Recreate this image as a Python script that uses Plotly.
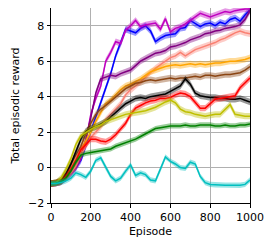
import plotly.graph_objects as go

episodes = list(range(0, 1001, 25))

blue = [-0.9, -0.88, -0.8, -0.6, -0.3, 0.0, 0.4, 1.2, 2.0, 2.8, 3.6, 4.5, 5.3, 6.3, 7.0, 7.8, 7.7, 7.6, 7.85, 8.0, 7.7,
        7.1, 7.3, 7.45, 7.5, 7.55, 7.85, 7.9, 8.3, 8.1, 7.95, 8.1, 8.15, 8.0, 8.2, 8.1, 8.35, 8.45, 8.25, 8.6, 8.9]
magenta = [-0.9, -0.88, -0.8, -0.6, -0.3, 0.0, 0.5, 1.5, 3.0, 3.9, 4.6, 6.0, 6.5, 7.1, 7.0, 7.75, 8.0, 8.3, 7.95, 8.05, 8.1,
           8.15, 7.8, 8.4, 7.65, 7.85, 7.95, 8.1, 8.3, 8.5, 8.7, 8.6, 8.5, 8.6, 8.7, 8.8, 8.75, 8.85, 8.9, 8.95, 8.95]
purple = [-0.9, -0.88, -0.8, -0.6, -0.35, 0.0, 0.6, 1.6, 2.8, 4.2, 5.0, 5.1, 5.2, 5.15, 5.3, 5.4, 5.5, 5.75, 6.0, 6.15, 6.3,
          6.45, 6.5, 6.6, 6.8, 6.85, 6.95, 7.05, 7.2, 7.3, 7.4, 7.55, 7.6, 7.7, 7.75, 7.85, 7.9, 7.95, 8.05, 8.35, 8.85]
salmon = [-0.9, -0.88, -0.8, -0.6, -0.3, 0.1, 0.7, 1.2, 1.7, 2.0, 2.3, 2.7, 3.0, 3.3, 3.6, 4.1, 4.4, 4.6, 4.85, 5.1, 5.4,
          5.6, 5.8, 6.0, 6.2, 6.3, 6.5, 6.3, 6.5, 6.65, 6.75, 6.85, 6.95, 7.05, 7.2, 7.3, 7.45, 7.6, 7.7, 7.6, 7.55]
orange = [-0.9, -0.88, -0.8, -0.5, -0.1, 0.4, 1.0, 1.5, 2.0, 2.6, 3.1, 3.6, 3.8, 4.1, 4.4, 4.6, 4.7, 4.85, 5.0, 5.2, 5.4,
          5.5, 5.6, 5.7, 5.75, 5.8, 5.75, 5.8, 5.85, 5.8, 5.85, 5.8, 5.85, 5.9, 5.9, 5.95, 6.0, 6.0, 6.05, 6.1, 6.2]
brown = [-0.9, -0.85, -0.75, -0.4, 0.2, 0.7, 1.2, 1.9, 2.5, 3.0, 3.3, 3.5, 3.75, 4.0, 4.2, 4.45, 4.6, 4.75, 4.8, 4.9, 4.95,
         4.9, 4.95, 5.0, 5.05, 5.0, 5.05, 5.05, 5.1, 5.15, 5.1, 5.2, 5.2, 5.15, 5.2, 5.25, 5.25, 5.3, 5.35, 5.5, 5.7]
black = [-0.9, -0.85, -0.7, -0.35, 0.2, 0.9, 1.6, 2.05, 2.2, 2.3, 2.45, 2.6, 2.85, 3.1, 3.35, 3.6, 3.75, 3.9, 3.95, 3.9, 4.0,
         4.05, 4.1, 4.15, 4.3, 4.45, 4.6, 5.0, 4.7, 4.2, 4.05, 4.0, 3.95, 3.95, 3.9, 3.9, 3.85, 3.85, 3.9, 3.8, 3.7]
red = [-0.9, -0.88, -0.8, -0.5, -0.1, 0.4, 1.0, 1.3, 1.6, 1.6, 1.5, 1.45, 1.6, 1.85, 2.2, 2.5, 3.0, 3.35, 3.5, 3.65, 3.75,
       3.8, 3.9, 3.9, 3.95, 4.1, 4.2, 4.15, 4.0, 3.7, 3.35, 3.35, 3.6, 3.85, 3.9, 3.95, 4.0, 4.05, 4.5, 4.8, 5.05]
yellow = [-0.9, -0.85, -0.6, -0.1, 0.5, 1.3, 1.8, 2.0, 2.15, 2.3, 2.4, 2.6, 2.7, 2.8, 2.9, 3.0, 3.05, 3.1, 3.15, 3.2, 3.3,
          3.4, 3.55, 3.7, 3.8, 3.65, 3.3, 3.15, 3.1, 3.0, 2.95, 2.9, 2.95, 3.0, 3.0, 3.3, 3.55, 3.0, 2.95, 2.9, 2.9]
green = [-0.9, -0.88, -0.8, -0.6, -0.2, 0.3, 0.7, 0.8, 0.85, 0.9, 0.95, 1.0, 1.05, 1.2, 1.3, 1.4, 1.5, 1.6, 1.75, 1.9, 2.05,
         2.2, 2.25, 2.3, 2.35, 2.35, 2.35, 2.4, 2.35, 2.35, 2.4, 2.4, 2.4, 2.35, 2.35, 2.4, 2.35, 2.35, 2.4, 2.4, 2.45]
cyan = [-0.9, -0.9, -0.85, -0.75, -0.6, -0.3, -0.4, -0.55, -0.2, 0.4, 0.55, 0.0, -0.5, -0.75, -0.6, -0.2, 0.15, -0.45, -0.3,
        -0.4, -0.7, -0.75, -0.1, 0.6, 0.35, 0.2, 0.0, -0.05, 0.3, 0.2, -0.5, -0.85, -0.95, -0.98, -1.0, -1.0, -1.0, -1.0,
        -1.0, -0.95, -0.7]

series = [blue, magenta, purple, salmon, orange, brown, black, red, yellow, green, cyan]
colors = ["rgb(0,0,255)", "rgb(191,0,191)", "rgb(128,0,128)", "rgb(250,128,114)", "rgb(255,165,0)",
          "rgb(139,69,19)", "rgb(0,0,0)", "rgb(255,0,0)", "rgb(191,191,0)", "rgb(0,128,0)", "rgb(0,191,191)"]
band = [0.18, 0.18, 0.18, 0.18, 0.18, 0.18, 0.18, 0.18, 0.18, 0.15, 0.15]

fig = go.Figure()
for vals, col, bw in zip(series, colors, band):
    fill = col.replace("rgb", "rgba").replace(")", ",0.4)")
    upper = [v + bw for v in vals]
    lower = [v - bw for v in vals]
    fig.add_trace(go.Scatter(x=episodes + episodes[::-1], y=upper + lower[::-1], fill="toself",
                             fillcolor=fill, line=dict(width=0), mode="lines", hoverinfo="skip",
                             showlegend=False))
    fig.add_trace(go.Scatter(x=episodes, y=vals, mode="lines", line=dict(color=col, width=1.5),
                             showlegend=False))

axis_common = dict(showline=True, linecolor="black", linewidth=1, mirror=True, ticks="outside",
                   ticklen=3.5, tickcolor="black", showgrid=True, gridcolor="#b0b0b0", gridwidth=1,
                   zeroline=False, tickfont=dict(size=11, color="black"))
fig.update_xaxes(range=[0, 1000], tickvals=[0, 200, 400, 600, 800, 1000],
                 title=dict(text="Episode", font=dict(size=11, color="black"), standoff=4), **axis_common)
fig.update_yaxes(range=[-2, 9], tickvals=[-2, 0, 2, 4, 6, 8],
                 title=dict(text="Total episodic reward", font=dict(size=11, color="black"), standoff=6),
                 **axis_common)
fig.update_layout(width=266, height=240, margin=dict(l=43, r=24, t=0, b=45),
                  plot_bgcolor="white", paper_bgcolor="white",
                  font=dict(family="DejaVu Sans", size=11, color="black"))
fig.write_html("out.html")
